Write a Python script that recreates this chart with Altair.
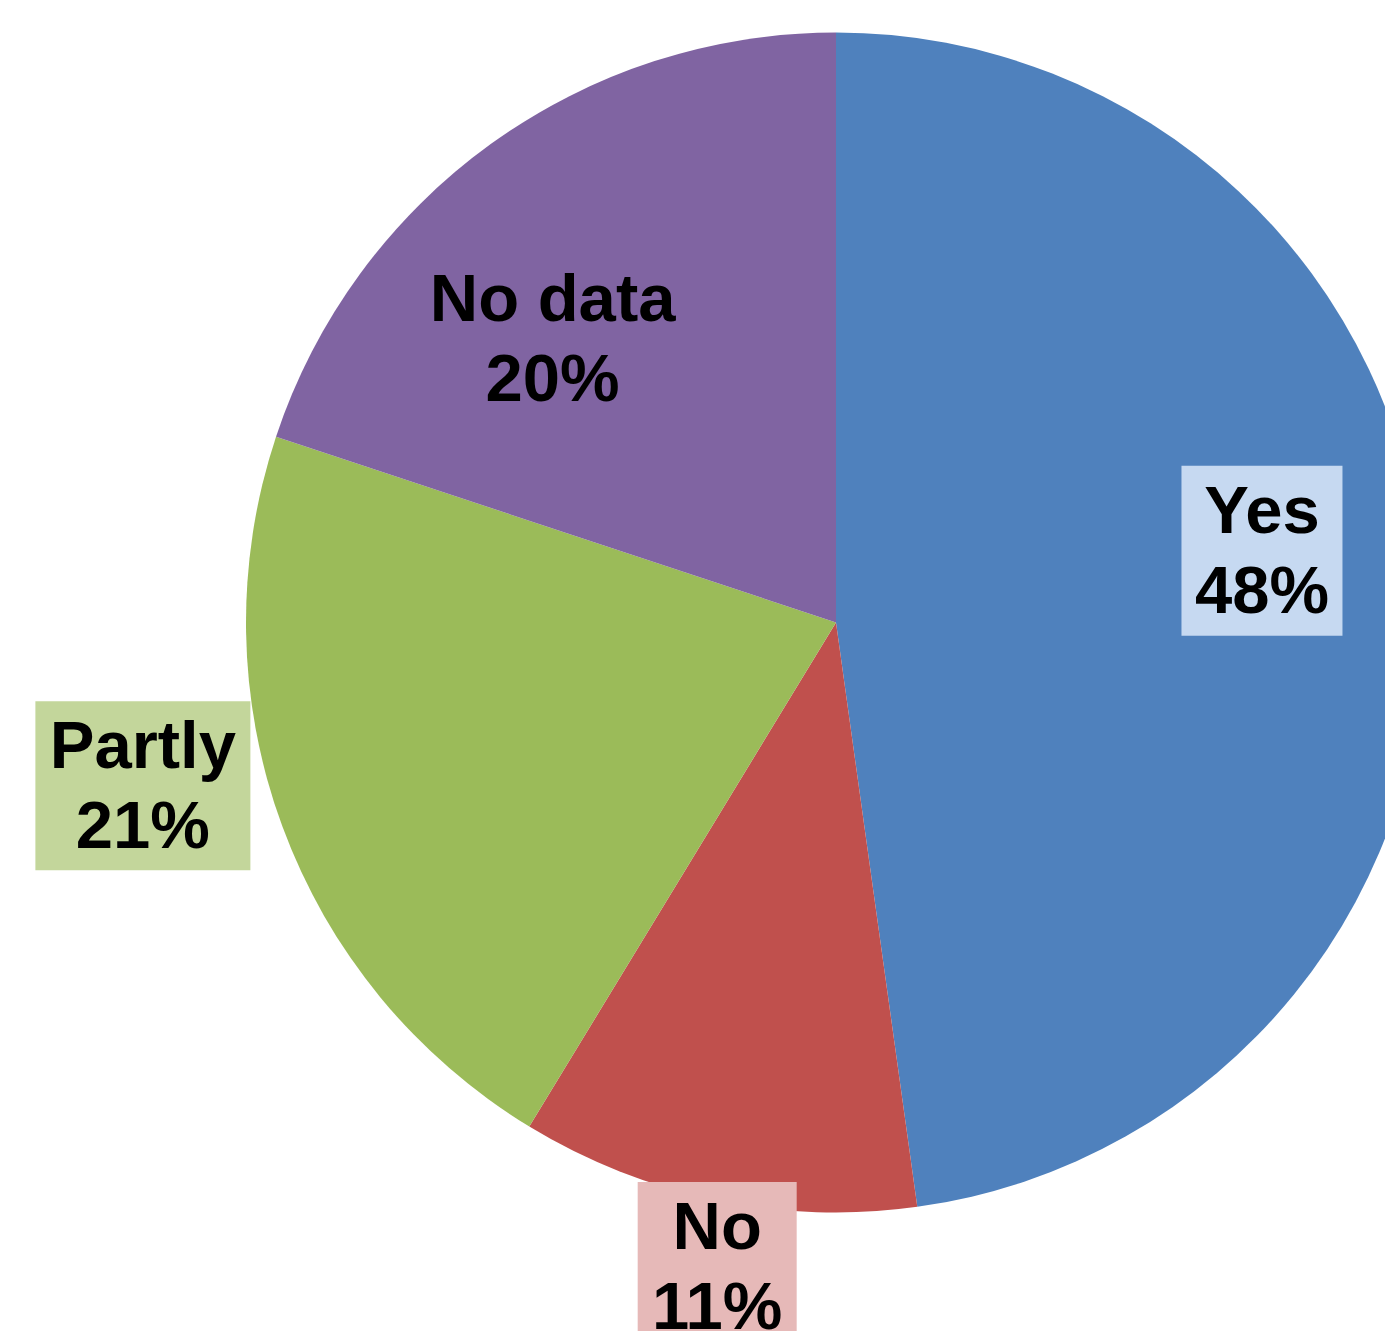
import altair as alt
import pandas as pd

# ---- data ----
categories = ["Yes", "No", "Partly", "No data"]
values = [47.8, 10.9, 21.4, 19.9]

# ---- style ----
slice_colors = ["#4F81BD", "#C0504D", "#9BBB59", "#8064A2"]
box_fills = ["#C6D9F1", "#E6B9B8", "#C3D69B", ""]
label_radius = [430, 650, 700, 380]
label_dx = [-3, 13, -36, -61]
label_dy = [-42, 8, -78, 25]
box_w = [161, 159, 215, 0]
box_h = [170, 170, 169, 0]

CX, CY, R = 828, 614.5, 590

df = pd.DataFrame({
    "cat": categories,
    "value": values,
    "order": list(range(len(categories))),
    "lr": label_radius,
    "ldx": label_dx,
    "ldy": label_dy,
    "bw": box_w,
    "bh": box_h,
    "bfill": box_fills,
})

base = alt.Chart(df)

arc = base.mark_arc(radius=R, stroke=None).encode(
    theta=alt.Theta("value:Q", stack=True),
    color=alt.Color("cat:N", scale=alt.Scale(domain=categories, range=slice_colors), legend=None),
    order=alt.Order("order:Q"),
    x=alt.value(CX),
    y=alt.value(CY),
)

pos = base.transform_joinaggregate(
    total="sum(value)"
).transform_window(
    cum="sum(value)", sort=[alt.SortField("order")], frame=[None, 0]
).transform_calculate(
    mid="(datum.cum - datum.value / 2) / datum.total"
).transform_calculate(
    lx=f"{CX} + datum.lr * sin(2 * PI * datum.mid) + datum.ldx",
    ly=f"{CY} - datum.lr * cos(2 * PI * datum.mid) + datum.ldy",
    label="datum.cat + '\\n' + format(datum.value / datum.total, '.0%')",
).transform_calculate(
    bx1="datum.lx - datum.bw / 2",
    bx2="datum.lx + datum.bw / 2",
    by1="datum.ly - datum.bh / 2",
    by2="datum.ly + datum.bh / 2",
)

boxes = pos.transform_filter("datum.bw > 0").mark_rect().encode(
    x=alt.X("bx1:Q", scale=None),
    x2="bx2:Q",
    y=alt.Y("by1:Q", scale=None),
    y2="by2:Q",
    fill=alt.Fill("bfill:N", scale=None),
)

texts = pos.mark_text(
    font="Liberation Sans",
    fontWeight="bold",
    fontSize=67,
    lineHeight=80,
    lineBreak="\n",
    align="center",
    baseline="middle",
    dy=-38,
    color="black",
).encode(
    x=alt.X("lx:Q", scale=None),
    y=alt.Y("ly:Q", scale=None),
    text="label:N",
)

chart = alt.layer(arc, boxes, texts).properties(
    width=1377,
    height=1323,
    autosize="none",
    padding=0,
    background="white",
).configure_view(stroke=None)

chart.save("out.html", embed_options={"renderer": "svg", "actions": False})
